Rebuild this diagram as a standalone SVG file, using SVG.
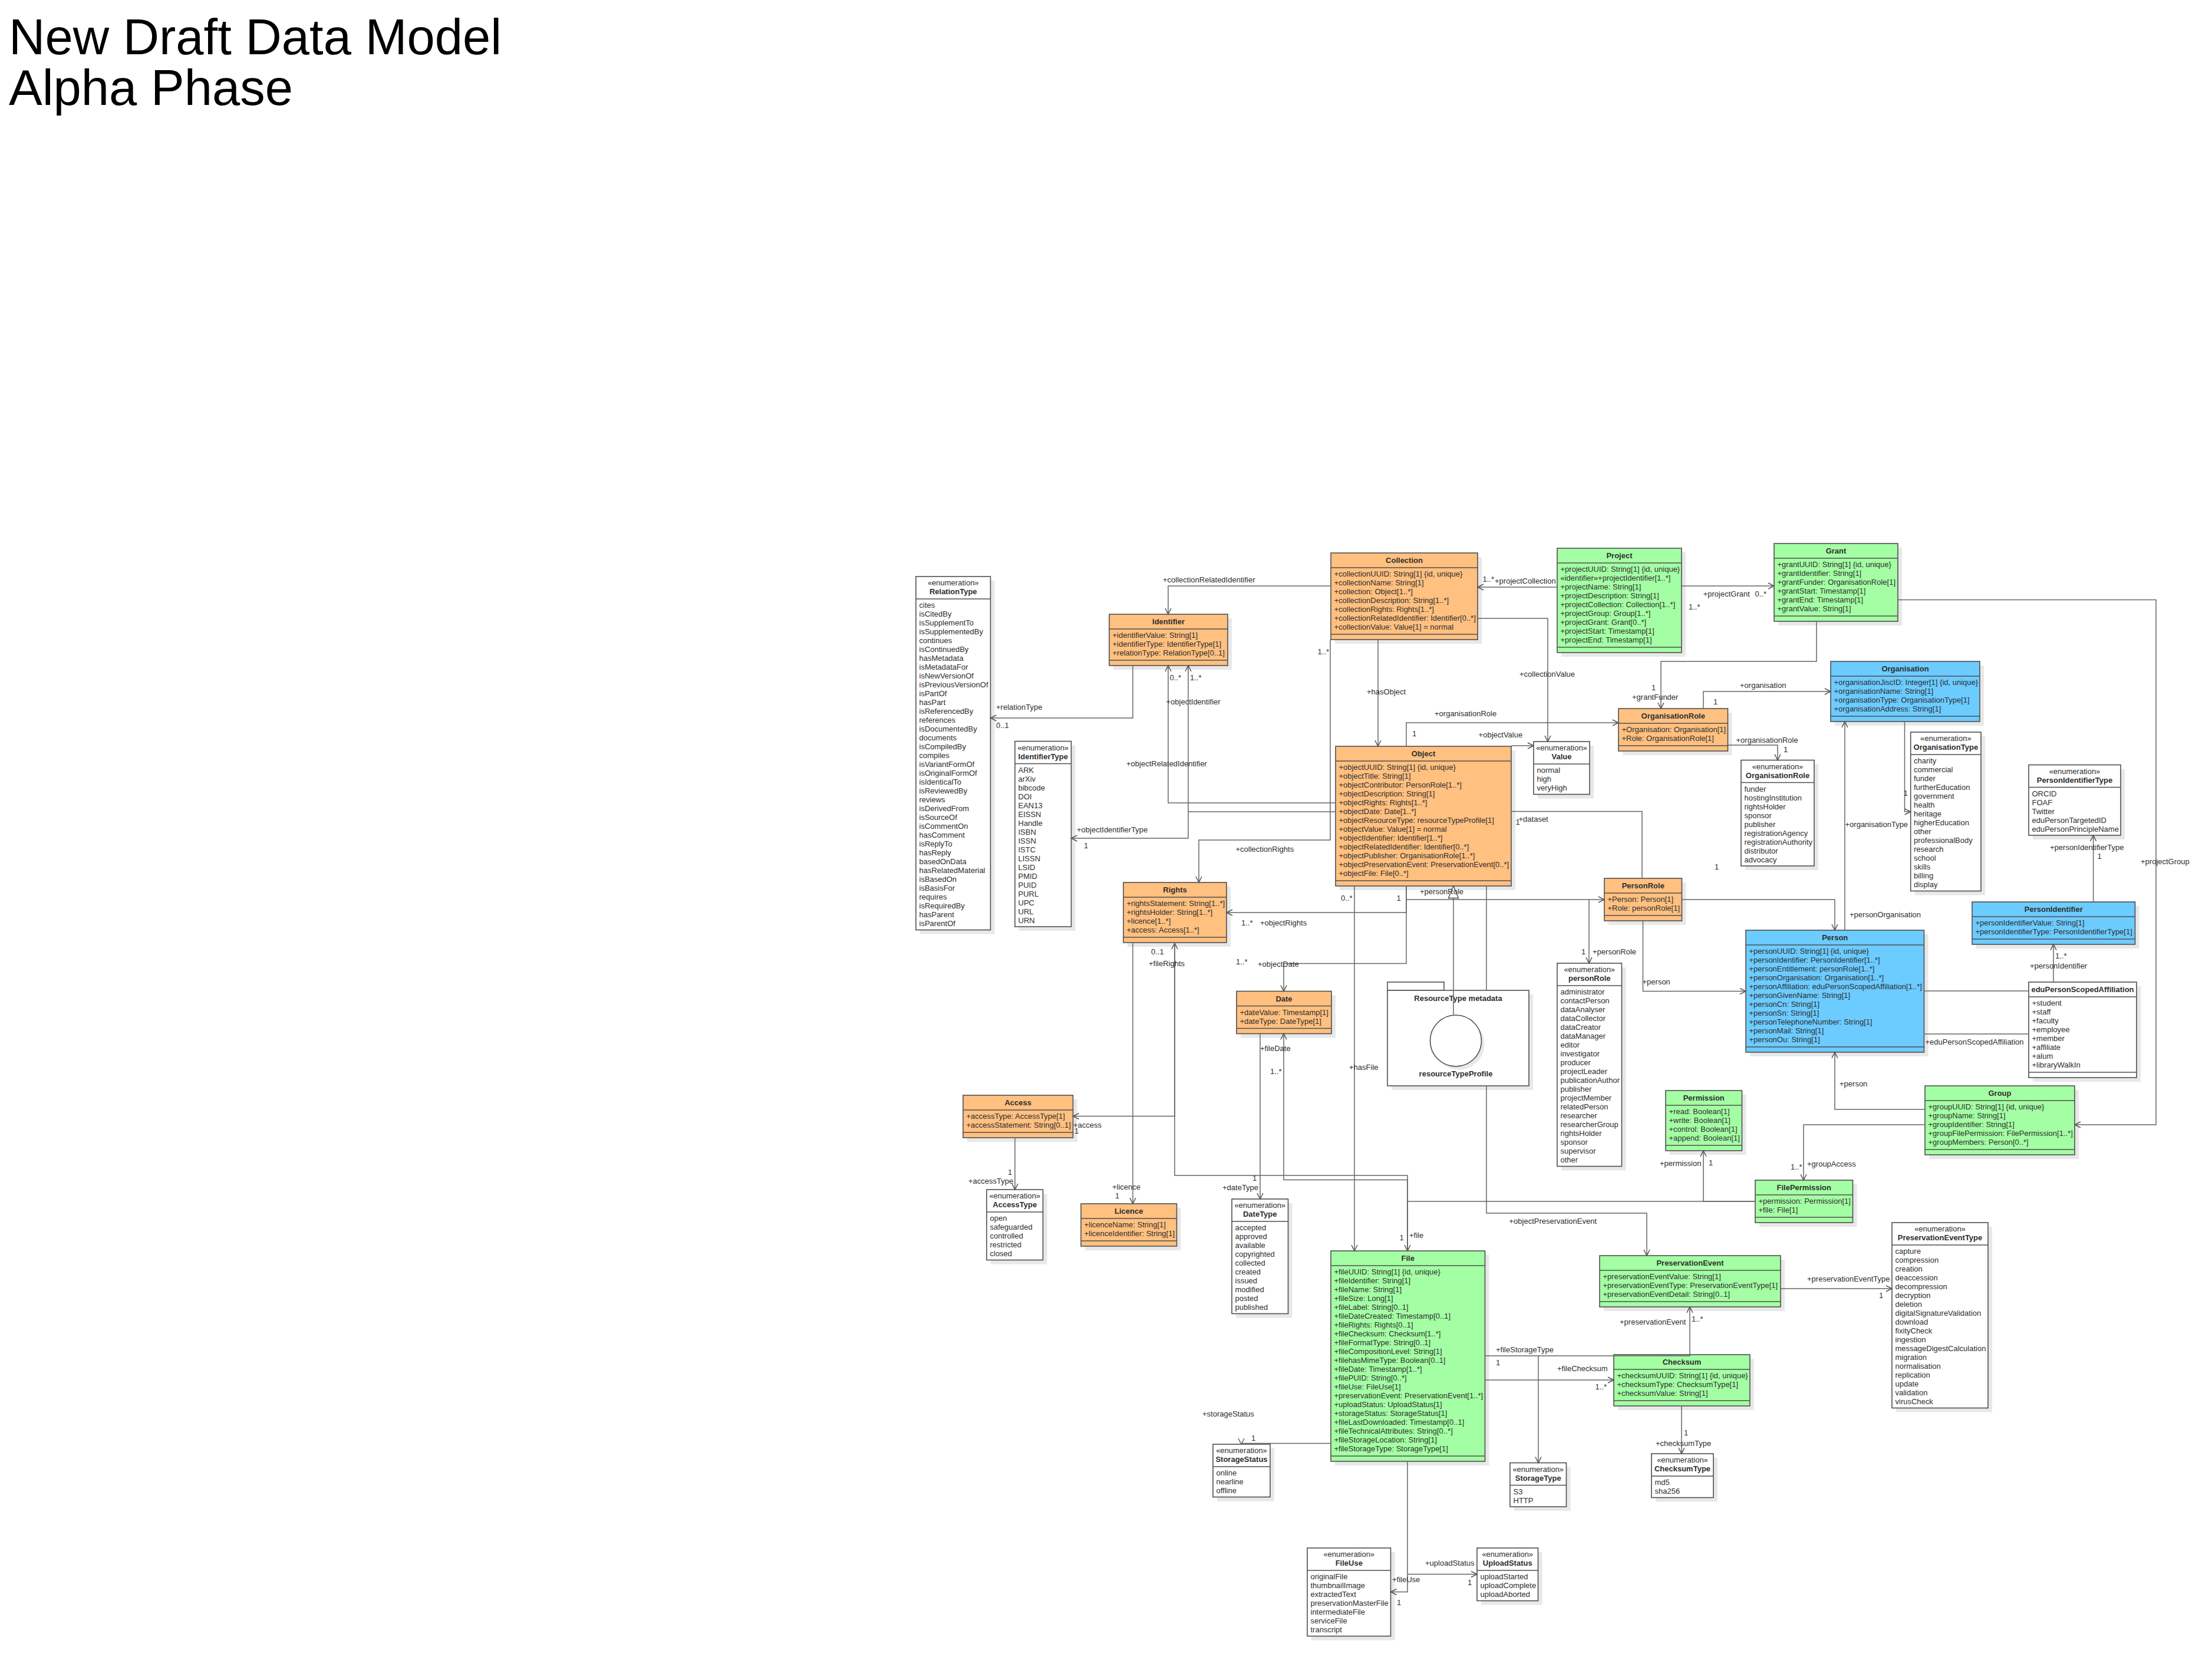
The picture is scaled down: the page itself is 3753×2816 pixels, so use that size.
<svg xmlns="http://www.w3.org/2000/svg" width="3753" height="2816" viewBox="0 0 3753 2816">
<defs>
<style>
.t{font-family:"Liberation Sans",Arial,sans-serif;font-size:13px;fill:#2e2e2e}
.b{font-weight:bold}
.m{text-anchor:middle}
.sh{fill:#e8e8e8}
.bx{stroke:#4f4f4f;stroke-width:1.6}
.or{fill:#ffc080}
.gr{fill:#a4ffa4}
.bl{fill:#6ccbff}
.wh{fill:#ffffff}
.dv{stroke:#4f4f4f;stroke-width:1.6}
.c{fill:none;stroke:#666666;stroke-width:1.5}
.ca{marker-end:url(#a)}
.ttl{font-family:"Liberation Sans",Arial,sans-serif;font-size:85px;fill:#000000}
</style>
<marker id="a" markerUnits="userSpaceOnUse" markerWidth="14" markerHeight="14" refX="11" refY="6" orient="auto"><path d="M1,1 L11,6 L1,11" fill="none" stroke="#555555" stroke-width="1.5"/></marker>
</defs>
<rect x="0" y="0" width="3753" height="2816" fill="#ffffff"/>
<g id="title">
<text class="ttl" x="15" y="92">New Draft Data Model</text>
<text class="ttl" x="15" y="178">Alpha Phase</text>
</g>

<g id="RelationType">
<rect class="sh" x="1561" y="985" width="126.5" height="599.5"/>
<rect class="wh bx" x="1554" y="978" width="126.5" height="599.5"/>
<line class="dv" x1="1554" y1="1016" x2="1680.5" y2="1016"/>
<text class="t m" x="1617.25" y="993">«enumeration»</text>
<text class="t b m" x="1617.25" y="1008">RelationType</text>
<text class="t" x="1559.5" y="1031"><tspan x="1559.5">cites</tspan><tspan x="1559.5" dy="15">isCitedBy</tspan><tspan x="1559.5" dy="15">isSupplementTo</tspan><tspan x="1559.5" dy="15">isSupplementedBy</tspan><tspan x="1559.5" dy="15">continues</tspan><tspan x="1559.5" dy="15">isContinuedBy</tspan><tspan x="1559.5" dy="15">hasMetadata</tspan><tspan x="1559.5" dy="15">isMetadataFor</tspan><tspan x="1559.5" dy="15">isNewVersionOf</tspan><tspan x="1559.5" dy="15">isPreviousVersionOf</tspan><tspan x="1559.5" dy="15">isPartOf</tspan><tspan x="1559.5" dy="15">hasPart</tspan><tspan x="1559.5" dy="15">isReferencedBy</tspan><tspan x="1559.5" dy="15">references</tspan><tspan x="1559.5" dy="15">isDocumentedBy</tspan><tspan x="1559.5" dy="15">documents</tspan><tspan x="1559.5" dy="15">isCompiledBy</tspan><tspan x="1559.5" dy="15">compiles</tspan><tspan x="1559.5" dy="15">isVariantFormOf</tspan><tspan x="1559.5" dy="15">isOriginalFormOf</tspan><tspan x="1559.5" dy="15">isIdenticalTo</tspan><tspan x="1559.5" dy="15">isReviewedBy</tspan><tspan x="1559.5" dy="15">reviews</tspan><tspan x="1559.5" dy="15">isDerivedFrom</tspan><tspan x="1559.5" dy="15">isSourceOf</tspan><tspan x="1559.5" dy="15">isCommentOn</tspan><tspan x="1559.5" dy="15">hasComment</tspan><tspan x="1559.5" dy="15">isReplyTo</tspan><tspan x="1559.5" dy="15">hasReply</tspan><tspan x="1559.5" dy="15">basedOnData</tspan><tspan x="1559.5" dy="15">hasRelatedMaterial</tspan><tspan x="1559.5" dy="15">isBasedOn</tspan><tspan x="1559.5" dy="15">isBasisFor</tspan><tspan x="1559.5" dy="15">requires</tspan><tspan x="1559.5" dy="15">isRequiredBy</tspan><tspan x="1559.5" dy="15">hasParent</tspan><tspan x="1559.5" dy="15">isParentOf</tspan></text>
</g>

<g id="IdentifierType">
<rect class="sh" x="1729" y="1264.5" width="95.5" height="314.5"/>
<rect class="wh bx" x="1722" y="1257.5" width="95.5" height="314.5"/>
<line class="dv" x1="1722" y1="1295.5" x2="1817.5" y2="1295.5"/>
<text class="t m" x="1769.75" y="1272.5">«enumeration»</text>
<text class="t b m" x="1769.75" y="1287.5">IdentifierType</text>
<text class="t" x="1727.5" y="1310.5"><tspan x="1727.5">ARK</tspan><tspan x="1727.5" dy="15">arXiv</tspan><tspan x="1727.5" dy="15">bibcode</tspan><tspan x="1727.5" dy="15">DOI</tspan><tspan x="1727.5" dy="15">EAN13</tspan><tspan x="1727.5" dy="15">EISSN</tspan><tspan x="1727.5" dy="15">Handle</tspan><tspan x="1727.5" dy="15">ISBN</tspan><tspan x="1727.5" dy="15">ISSN</tspan><tspan x="1727.5" dy="15">ISTC</tspan><tspan x="1727.5" dy="15">LISSN</tspan><tspan x="1727.5" dy="15">LSID</tspan><tspan x="1727.5" dy="15">PMID</tspan><tspan x="1727.5" dy="15">PUID</tspan><tspan x="1727.5" dy="15">PURL</tspan><tspan x="1727.5" dy="15">UPC</tspan><tspan x="1727.5" dy="15">URL</tspan><tspan x="1727.5" dy="15">URN</tspan></text>
</g>

<g id="Identifier">
<rect class="sh" x="1889" y="1049" width="201" height="87"/>
<rect class="or bx" x="1882" y="1042" width="201" height="87"/>
<line class="dv" x1="1882" y1="1067" x2="2083" y2="1067"/>
<line class="dv" x1="1882" y1="1120" x2="2083" y2="1120"/>
<text class="t b m" x="1982.5" y="1059">Identifier</text>
<text class="t" x="1887.5" y="1082"><tspan x="1887.5">+identifierValue: String[1]</tspan><tspan x="1887.5" dy="15">+identifierType: IdentifierType[1]</tspan><tspan x="1887.5" dy="15">+relationType: RelationType[0..1]</tspan></text>
</g>

<g id="Collection">
<rect class="sh" x="2265" y="945" width="249" height="147"/>
<rect class="or bx" x="2258" y="938" width="249" height="147"/>
<line class="dv" x1="2258" y1="963" x2="2507" y2="963"/>
<line class="dv" x1="2258" y1="1076" x2="2507" y2="1076"/>
<text class="t b m" x="2382.5" y="955">Collection</text>
<text class="t" x="2263.5" y="978"><tspan x="2263.5">+collectionUUID: String[1] {id, unique}</tspan><tspan x="2263.5" dy="15">+collectionName: String[1]</tspan><tspan x="2263.5" dy="15">+collection: Object[1..*]</tspan><tspan x="2263.5" dy="15">+collectionDescription: String[1..*]</tspan><tspan x="2263.5" dy="15">+collectionRights: Rights[1..*]</tspan><tspan x="2263.5" dy="15">+collectionRelatedIdentifier: Identifier[0..*]</tspan><tspan x="2263.5" dy="15">+collectionValue: Value[1] = normal</tspan></text>
</g>

<g id="Project">
<rect class="sh" x="2649" y="937" width="211" height="177"/>
<rect class="gr bx" x="2642" y="930" width="211" height="177"/>
<line class="dv" x1="2642" y1="955" x2="2853" y2="955"/>
<line class="dv" x1="2642" y1="1098" x2="2853" y2="1098"/>
<text class="t b m" x="2747.5" y="947">Project</text>
<text class="t" x="2647.5" y="970"><tspan x="2647.5">+projectUUID: String[1] {id, unique}</tspan><tspan x="2647.5" dy="15">«identifier»+projectIdentifier[1..*]</tspan><tspan x="2647.5" dy="15">+projectName: String[1]</tspan><tspan x="2647.5" dy="15">+projectDescription: String[1]</tspan><tspan x="2647.5" dy="15">+projectCollection: Collection[1..*]</tspan><tspan x="2647.5" dy="15">+projectGroup: Group[1..*]</tspan><tspan x="2647.5" dy="15">+projectGrant: Grant[0..*]</tspan><tspan x="2647.5" dy="15">+projectStart: Timestamp[1]</tspan><tspan x="2647.5" dy="15">+projectEnd: Timestamp[1]</tspan></text>
</g>

<g id="Grant">
<rect class="sh" x="3017" y="929" width="210" height="132"/>
<rect class="gr bx" x="3010" y="922" width="210" height="132"/>
<line class="dv" x1="3010" y1="947" x2="3220" y2="947"/>
<line class="dv" x1="3010" y1="1045" x2="3220" y2="1045"/>
<text class="t b m" x="3115" y="939">Grant</text>
<text class="t" x="3015.5" y="962"><tspan x="3015.5">+grantUUID: String[1] {id, unique}</tspan><tspan x="3015.5" dy="15">+grantIdentifier: String[1]</tspan><tspan x="3015.5" dy="15">+grantFunder: OrganisationRole[1]</tspan><tspan x="3015.5" dy="15">+grantStart: Timestamp[1]</tspan><tspan x="3015.5" dy="15">+grantEnd: Timestamp[1]</tspan><tspan x="3015.5" dy="15">+grantValue: String[1]</tspan></text>
</g>

<g id="Value">
<rect class="sh" x="2609" y="1265" width="95" height="89.5"/>
<rect class="wh bx" x="2602" y="1258" width="95" height="89.5"/>
<line class="dv" x1="2602" y1="1296" x2="2697" y2="1296"/>
<text class="t m" x="2649.5" y="1273">«enumeration»</text>
<text class="t b m" x="2649.5" y="1288">Value</text>
<text class="t" x="2607.5" y="1311"><tspan x="2607.5">normal</tspan><tspan x="2607.5" dy="15">high</tspan><tspan x="2607.5" dy="15">veryHigh</tspan></text>
</g>

<g id="OrganisationRoleClass">
<rect class="sh" x="2753" y="1209" width="185.5" height="72"/>
<rect class="or bx" x="2746" y="1202" width="185.5" height="72"/>
<line class="dv" x1="2746" y1="1227" x2="2931.5" y2="1227"/>
<line class="dv" x1="2746" y1="1265" x2="2931.5" y2="1265"/>
<text class="t b m" x="2838.75" y="1219">OrganisationRole</text>
<text class="t" x="2751.5" y="1242"><tspan x="2751.5">+Organisation: Organisation[1]</tspan><tspan x="2751.5" dy="15">+Role: OrganisationRole[1]</tspan></text>
</g>

<g id="Organisation">
<rect class="sh" x="3113" y="1129" width="253" height="102"/>
<rect class="bl bx" x="3106" y="1122" width="253" height="102"/>
<line class="dv" x1="3106" y1="1147" x2="3359" y2="1147"/>
<line class="dv" x1="3106" y1="1215" x2="3359" y2="1215"/>
<text class="t b m" x="3232.5" y="1139">Organisation</text>
<text class="t" x="3111.5" y="1162"><tspan x="3111.5">+organisationJiscID: Integer[1] {id, unique}</tspan><tspan x="3111.5" dy="15">+organisationName: String[1]</tspan><tspan x="3111.5" dy="15">+organisationType: OrganisationType[1]</tspan><tspan x="3111.5" dy="15">+organisationAddress: String[1]</tspan></text>
</g>

<g id="OrganisationRoleEnum">
<rect class="sh" x="2961" y="1296.5" width="124" height="179.5"/>
<rect class="wh bx" x="2954" y="1289.5" width="124" height="179.5"/>
<line class="dv" x1="2954" y1="1327.5" x2="3078" y2="1327.5"/>
<text class="t m" x="3016" y="1304.5">«enumeration»</text>
<text class="t b m" x="3016" y="1319.5">OrganisationRole</text>
<text class="t" x="2959.5" y="1342.5"><tspan x="2959.5">funder</tspan><tspan x="2959.5" dy="15">hostingInstitution</tspan><tspan x="2959.5" dy="15">rightsHolder</tspan><tspan x="2959.5" dy="15">sponsor</tspan><tspan x="2959.5" dy="15">publisher</tspan><tspan x="2959.5" dy="15">registrationAgency</tspan><tspan x="2959.5" dy="15">registrationAuthority</tspan><tspan x="2959.5" dy="15">distributor</tspan><tspan x="2959.5" dy="15">advocacy</tspan></text>
</g>

<g id="OrganisationType">
<rect class="sh" x="3248.7" y="1249" width="119.3" height="269.5"/>
<rect class="wh bx" x="3241.7" y="1242" width="119.3" height="269.5"/>
<line class="dv" x1="3241.7" y1="1280" x2="3361" y2="1280"/>
<text class="t m" x="3301.35" y="1257">«enumeration»</text>
<text class="t b m" x="3301.35" y="1272">OrganisationType</text>
<text class="t" x="3247" y="1295"><tspan x="3247">charity</tspan><tspan x="3247" dy="15">commercial</tspan><tspan x="3247" dy="15">funder</tspan><tspan x="3247" dy="15">furtherEducation</tspan><tspan x="3247" dy="15">government</tspan><tspan x="3247" dy="15">health</tspan><tspan x="3247" dy="15">heritage</tspan><tspan x="3247" dy="15">higherEducation</tspan><tspan x="3247" dy="15">other</tspan><tspan x="3247" dy="15">professionalBody</tspan><tspan x="3247" dy="15">research</tspan><tspan x="3247" dy="15">school</tspan><tspan x="3247" dy="15">skills</tspan><tspan x="3247" dy="15">billing</tspan><tspan x="3247" dy="15">display</tspan></text>
</g>

<g id="PersonIdentifierType">
<rect class="sh" x="3449" y="1304.5" width="156" height="119.5"/>
<rect class="wh bx" x="3442" y="1297.5" width="156" height="119.5"/>
<line class="dv" x1="3442" y1="1335.5" x2="3598" y2="1335.5"/>
<text class="t m" x="3520" y="1312.5">«enumeration»</text>
<text class="t b m" x="3520" y="1327.5">PersonIdentifierType</text>
<text class="t" x="3447.5" y="1350.5"><tspan x="3447.5">ORCID</tspan><tspan x="3447.5" dy="15">FOAF</tspan><tspan x="3447.5" dy="15">Twitter</tspan><tspan x="3447.5" dy="15">eduPersonTargetedID</tspan><tspan x="3447.5" dy="15">eduPersonPrincipleName</tspan></text>
</g>

<g id="PersonIdentifier">
<rect class="sh" x="3353" y="1537" width="276.5" height="72"/>
<rect class="bl bx" x="3346" y="1530" width="276.5" height="72"/>
<line class="dv" x1="3346" y1="1555" x2="3622.5" y2="1555"/>
<line class="dv" x1="3346" y1="1593" x2="3622.5" y2="1593"/>
<text class="t b m" x="3484.25" y="1547">PersonIdentifier</text>
<text class="t" x="3351.5" y="1570"><tspan x="3351.5">+personIdentifierValue: String[1]</tspan><tspan x="3351.5" dy="15">+personIdentifierType: PersonIdentifierType[1]</tspan></text>
</g>

<g id="Object">
<rect class="sh" x="2273" y="1273" width="298" height="237"/>
<rect class="or bx" x="2266" y="1266" width="298" height="237"/>
<line class="dv" x1="2266" y1="1291" x2="2564" y2="1291"/>
<line class="dv" x1="2266" y1="1494" x2="2564" y2="1494"/>
<text class="t b m" x="2415" y="1283">Object</text>
<text class="t" x="2271.5" y="1306"><tspan x="2271.5">+objectUUID: String[1] {id, unique}</tspan><tspan x="2271.5" dy="15">+objectTitle: String[1]</tspan><tspan x="2271.5" dy="15">+objectContributor: PersonRole[1..*]</tspan><tspan x="2271.5" dy="15">+objectDescription: String[1]</tspan><tspan x="2271.5" dy="15">+objectRights: Rights[1..*]</tspan><tspan x="2271.5" dy="15">+objectDate: Date[1..*]</tspan><tspan x="2271.5" dy="15">+objectResourceType: resourceTypeProfile[1]</tspan><tspan x="2271.5" dy="15">+objectValue: Value[1] = normal</tspan><tspan x="2271.5" dy="15">+objectIdentifier: Identifier[1..*]</tspan><tspan x="2271.5" dy="15">+objectRelatedIdentifier: Identifier[0..*]</tspan><tspan x="2271.5" dy="15">+objectPublisher: OrganisationRole[1..*]</tspan><tspan x="2271.5" dy="15">+objectPreservationEvent: PreservationEvent[0..*]</tspan><tspan x="2271.5" dy="15">+objectFile: File[0..*]</tspan></text>
</g>

<g id="Rights">
<rect class="sh" x="1913" y="1504" width="175" height="102"/>
<rect class="or bx" x="1906" y="1497" width="175" height="102"/>
<line class="dv" x1="1906" y1="1522" x2="2081" y2="1522"/>
<line class="dv" x1="1906" y1="1590" x2="2081" y2="1590"/>
<text class="t b m" x="1993.5" y="1514">Rights</text>
<text class="t" x="1911.5" y="1537"><tspan x="1911.5">+rightsStatement: String[1..*]</tspan><tspan x="1911.5" dy="15">+rightsHolder: String[1..*]</tspan><tspan x="1911.5" dy="15">+licence[1..*]</tspan><tspan x="1911.5" dy="15">+access: Access[1..*]</tspan></text>
</g>

<g id="PersonRole">
<rect class="sh" x="2729" y="1497" width="131.5" height="72"/>
<rect class="or bx" x="2722" y="1490" width="131.5" height="72"/>
<line class="dv" x1="2722" y1="1515" x2="2853.5" y2="1515"/>
<line class="dv" x1="2722" y1="1553" x2="2853.5" y2="1553"/>
<text class="t b m" x="2787.75" y="1507">PersonRole</text>
<text class="t" x="2727.5" y="1530"><tspan x="2727.5">+Person: Person[1]</tspan><tspan x="2727.5" dy="15">+Role: personRole[1]</tspan></text>
</g>

<g id="personRoleEnum">
<rect class="sh" x="2649" y="1641" width="109.5" height="344.5"/>
<rect class="wh bx" x="2642" y="1634" width="109.5" height="344.5"/>
<line class="dv" x1="2642" y1="1672" x2="2751.5" y2="1672"/>
<text class="t m" x="2696.75" y="1649">«enumeration»</text>
<text class="t b m" x="2696.75" y="1664">personRole</text>
<text class="t" x="2647.5" y="1687"><tspan x="2647.5">administrator</tspan><tspan x="2647.5" dy="15">contactPerson</tspan><tspan x="2647.5" dy="15">dataAnalyser</tspan><tspan x="2647.5" dy="15">dataCollector</tspan><tspan x="2647.5" dy="15">dataCreator</tspan><tspan x="2647.5" dy="15">dataManager</tspan><tspan x="2647.5" dy="15">editor</tspan><tspan x="2647.5" dy="15">investigator</tspan><tspan x="2647.5" dy="15">producer</tspan><tspan x="2647.5" dy="15">projectLeader</tspan><tspan x="2647.5" dy="15">publicationAuthor</tspan><tspan x="2647.5" dy="15">publisher</tspan><tspan x="2647.5" dy="15">projectMember</tspan><tspan x="2647.5" dy="15">relatedPerson</tspan><tspan x="2647.5" dy="15">researcher</tspan><tspan x="2647.5" dy="15">researcherGroup</tspan><tspan x="2647.5" dy="15">rightsHolder</tspan><tspan x="2647.5" dy="15">sponsor</tspan><tspan x="2647.5" dy="15">supervisor</tspan><tspan x="2647.5" dy="15">other</tspan></text>
</g>

<g id="Person">
<rect class="sh" x="2969" y="1585" width="302.5" height="207"/>
<rect class="bl bx" x="2962" y="1578" width="302.5" height="207"/>
<line class="dv" x1="2962" y1="1603" x2="3264.5" y2="1603"/>
<line class="dv" x1="2962" y1="1776" x2="3264.5" y2="1776"/>
<text class="t b m" x="3113.25" y="1595">Person</text>
<text class="t" x="2967.5" y="1618"><tspan x="2967.5">+personUUID: String[1] {id, unique}</tspan><tspan x="2967.5" dy="15">+personIdentifier: PersonIdentifier[1..*]</tspan><tspan x="2967.5" dy="15">+personEntitlement: personRole[1..*]</tspan><tspan x="2967.5" dy="15">+personOrganisation: Organisation[1..*]</tspan><tspan x="2967.5" dy="15">+personAffiliation: eduPersonScopedAffiliation[1..*]</tspan><tspan x="2967.5" dy="15">+personGivenName: String[1]</tspan><tspan x="2967.5" dy="15">+personCn: String[1]</tspan><tspan x="2967.5" dy="15">+personSn: String[1]</tspan><tspan x="2967.5" dy="15">+personTelephoneNumber: String[1]</tspan><tspan x="2967.5" dy="15">+personMail: String[1]</tspan><tspan x="2967.5" dy="15">+personOu: String[1]</tspan></text>
</g>

<g id="eduPersonScopedAffiliation">
<rect class="sh" x="3449" y="1673" width="183" height="162"/>
<rect class="wh bx" x="3442" y="1666" width="183" height="162"/>
<line class="dv" x1="3442" y1="1691" x2="3625" y2="1691"/>
<line class="dv" x1="3442" y1="1819" x2="3625" y2="1819"/>
<text class="t b m" x="3533.5" y="1683">eduPersonScopedAffiliation</text>
<text class="t" x="3447.5" y="1706"><tspan x="3447.5">+student</tspan><tspan x="3447.5" dy="15">+staff</tspan><tspan x="3447.5" dy="15">+faculty</tspan><tspan x="3447.5" dy="15">+employee</tspan><tspan x="3447.5" dy="15">+member</tspan><tspan x="3447.5" dy="15">+affiliate</tspan><tspan x="3447.5" dy="15">+alum</tspan><tspan x="3447.5" dy="15">+libraryWalkIn</tspan></text>
</g>

<g id="Date">
<rect class="sh" x="2105" y="1688.5" width="161" height="72"/>
<rect class="or bx" x="2098" y="1681.5" width="161" height="72"/>
<line class="dv" x1="2098" y1="1706.5" x2="2259" y2="1706.5"/>
<line class="dv" x1="2098" y1="1744.5" x2="2259" y2="1744.5"/>
<text class="t b m" x="2178.5" y="1698.5">Date</text>
<text class="t" x="2103.5" y="1721.5"><tspan x="2103.5">+dateValue: Timestamp[1]</tspan><tspan x="2103.5" dy="15">+dateType: DateType[1]</tspan></text>
</g>

<g id="ResourceTypeMetadata">
<rect class="sh" x="2361" y="1687" width="240" height="162"/>
<rect class="wh bx" x="2354" y="1666" width="96" height="14"/>
<rect class="wh bx" x="2354" y="1680" width="240" height="162"/>
<text class="t b m" x="2474" y="1698">ResourceType metadata</text>
<circle cx="2475" cy="1771" r="43.5" fill="#e8e8e8"/>
<circle cx="2470" cy="1765.5" r="43.5" fill="#ffffff" stroke="#4f4f4f" stroke-width="1.6"/>
<text class="t b m" x="2470" y="1826">resourceTypeProfile</text>
</g>

<g id="Access">
<rect class="sh" x="1641" y="1865" width="186.5" height="72"/>
<rect class="or bx" x="1634" y="1858" width="186.5" height="72"/>
<line class="dv" x1="1634" y1="1883" x2="1820.5" y2="1883"/>
<line class="dv" x1="1634" y1="1921" x2="1820.5" y2="1921"/>
<text class="t b m" x="1727.25" y="1875">Access</text>
<text class="t" x="1639.5" y="1898"><tspan x="1639.5">+accessType: AccessType[1]</tspan><tspan x="1639.5" dy="15">+accessStatement: String[0..1]</tspan></text>
</g>

<g id="AccessType">
<rect class="sh" x="1681" y="2025" width="95.5" height="119.5"/>
<rect class="wh bx" x="1674" y="2018" width="95.5" height="119.5"/>
<line class="dv" x1="1674" y1="2056" x2="1769.5" y2="2056"/>
<text class="t m" x="1721.75" y="2033">«enumeration»</text>
<text class="t b m" x="1721.75" y="2048">AccessType</text>
<text class="t" x="1679.5" y="2071"><tspan x="1679.5">open</tspan><tspan x="1679.5" dy="15">safeguarded</tspan><tspan x="1679.5" dy="15">controlled</tspan><tspan x="1679.5" dy="15">restricted</tspan><tspan x="1679.5" dy="15">closed</tspan></text>
</g>

<g id="Licence">
<rect class="sh" x="1841" y="2049" width="162.5" height="72"/>
<rect class="or bx" x="1834" y="2042" width="162.5" height="72"/>
<line class="dv" x1="1834" y1="2067" x2="1996.5" y2="2067"/>
<line class="dv" x1="1834" y1="2105" x2="1996.5" y2="2105"/>
<text class="t b m" x="1915.25" y="2059">Licence</text>
<text class="t" x="1839.5" y="2082"><tspan x="1839.5">+licenceName: String[1]</tspan><tspan x="1839.5" dy="15">+licenceIdentifier: String[1]</tspan></text>
</g>

<g id="DateType">
<rect class="sh" x="2097" y="2041" width="95.5" height="194.5"/>
<rect class="wh bx" x="2090" y="2034" width="95.5" height="194.5"/>
<line class="dv" x1="2090" y1="2072" x2="2185.5" y2="2072"/>
<text class="t m" x="2137.75" y="2049">«enumeration»</text>
<text class="t b m" x="2137.75" y="2064">DateType</text>
<text class="t" x="2095.5" y="2087"><tspan x="2095.5">accepted</tspan><tspan x="2095.5" dy="15">approved</tspan><tspan x="2095.5" dy="15">available</tspan><tspan x="2095.5" dy="15">copyrighted</tspan><tspan x="2095.5" dy="15">collected</tspan><tspan x="2095.5" dy="15">created</tspan><tspan x="2095.5" dy="15">issued</tspan><tspan x="2095.5" dy="15">modified</tspan><tspan x="2095.5" dy="15">posted</tspan><tspan x="2095.5" dy="15">published</tspan></text>
</g>

<g id="Permission">
<rect class="sh" x="2833" y="1857" width="129.5" height="102"/>
<rect class="gr bx" x="2826" y="1850" width="129.5" height="102"/>
<line class="dv" x1="2826" y1="1875" x2="2955.5" y2="1875"/>
<line class="dv" x1="2826" y1="1943" x2="2955.5" y2="1943"/>
<text class="t b m" x="2890.75" y="1867">Permission</text>
<text class="t" x="2831.5" y="1890"><tspan x="2831.5">+read: Boolean[1]</tspan><tspan x="2831.5" dy="15">+write: Boolean[1]</tspan><tspan x="2831.5" dy="15">+control: Boolean[1]</tspan><tspan x="2831.5" dy="15">+append: Boolean[1]</tspan></text>
</g>

<g id="Group">
<rect class="sh" x="3273" y="1849" width="254" height="117"/>
<rect class="gr bx" x="3266" y="1842" width="254" height="117"/>
<line class="dv" x1="3266" y1="1867" x2="3520" y2="1867"/>
<line class="dv" x1="3266" y1="1950" x2="3520" y2="1950"/>
<text class="t b m" x="3393" y="1859">Group</text>
<text class="t" x="3271.5" y="1882"><tspan x="3271.5">+groupUUID: String[1] {id, unique}</tspan><tspan x="3271.5" dy="15">+groupName: String[1]</tspan><tspan x="3271.5" dy="15">+groupIdentifier: String[1]</tspan><tspan x="3271.5" dy="15">+groupFilePermission: FilePermission[1..*]</tspan><tspan x="3271.5" dy="15">+groupMembers: Person[0..*]</tspan></text>
</g>

<g id="FilePermission">
<rect class="sh" x="2985" y="2009" width="165.5" height="72"/>
<rect class="gr bx" x="2978" y="2002" width="165.5" height="72"/>
<line class="dv" x1="2978" y1="2027" x2="3143.5" y2="2027"/>
<line class="dv" x1="2978" y1="2065" x2="3143.5" y2="2065"/>
<text class="t b m" x="3060.75" y="2019">FilePermission</text>
<text class="t" x="2983.5" y="2042"><tspan x="2983.5">+permission: Permission[1]</tspan><tspan x="2983.5" dy="15">+file: File[1]</tspan></text>
</g>

<g id="File">
<rect class="sh" x="2265" y="2129" width="261.5" height="357"/>
<rect class="gr bx" x="2258" y="2122" width="261.5" height="357"/>
<line class="dv" x1="2258" y1="2147" x2="2519.5" y2="2147"/>
<line class="dv" x1="2258" y1="2470" x2="2519.5" y2="2470"/>
<text class="t b m" x="2388.75" y="2139">File</text>
<text class="t" x="2263.5" y="2162"><tspan x="2263.5">+fileUUID: String[1] {id, unique}</tspan><tspan x="2263.5" dy="15">+fileIdentifier: String[1]</tspan><tspan x="2263.5" dy="15">+fileName: String[1]</tspan><tspan x="2263.5" dy="15">+fileSize: Long[1]</tspan><tspan x="2263.5" dy="15">+fileLabel: String[0..1]</tspan><tspan x="2263.5" dy="15">+fileDateCreated: Timestamp[0..1]</tspan><tspan x="2263.5" dy="15">+fileRights: Rights[0..1]</tspan><tspan x="2263.5" dy="15">+fileChecksum: Checksum[1..*]</tspan><tspan x="2263.5" dy="15">+fileFormatType: String[0..1]</tspan><tspan x="2263.5" dy="15">+fileCompositionLevel: String[1]</tspan><tspan x="2263.5" dy="15">+filehasMimeType: Boolean[0..1]</tspan><tspan x="2263.5" dy="15">+fileDate: Timestamp[1..*]</tspan><tspan x="2263.5" dy="15">+filePUID: String[0..*]</tspan><tspan x="2263.5" dy="15">+fileUse: FileUse[1]</tspan><tspan x="2263.5" dy="15">+preservationEvent: PreservationEvent[1..*]</tspan><tspan x="2263.5" dy="15">+uploadStatus: UploadStatus[1]</tspan><tspan x="2263.5" dy="15">+storageStatus: StorageStatus[1]</tspan><tspan x="2263.5" dy="15">+fileLastDownloaded: Timestamp[0..1]</tspan><tspan x="2263.5" dy="15">+fileTechnicalAttributes: String[0..*]</tspan><tspan x="2263.5" dy="15">+fileStorageLocation: String[1]</tspan><tspan x="2263.5" dy="15">+fileStorageType: StorageType[1]</tspan></text>
</g>

<g id="PreservationEvent">
<rect class="sh" x="2721" y="2137" width="307" height="87"/>
<rect class="gr bx" x="2714" y="2130" width="307" height="87"/>
<line class="dv" x1="2714" y1="2155" x2="3021" y2="2155"/>
<line class="dv" x1="2714" y1="2208" x2="3021" y2="2208"/>
<text class="t b m" x="2867.5" y="2147">PreservationEvent</text>
<text class="t" x="2719.5" y="2170"><tspan x="2719.5">+preservationEventValue: String[1]</tspan><tspan x="2719.5" dy="15">+preservationEventType: PreservationEventType[1]</tspan><tspan x="2719.5" dy="15">+preservationEventDetail: String[0..1]</tspan></text>
</g>

<g id="PreservationEventType">
<rect class="sh" x="3217" y="2081" width="163" height="314.5"/>
<rect class="wh bx" x="3210" y="2074" width="163" height="314.5"/>
<line class="dv" x1="3210" y1="2112" x2="3373" y2="2112"/>
<text class="t m" x="3291.5" y="2089">«enumeration»</text>
<text class="t b m" x="3291.5" y="2104">PreservationEventType</text>
<text class="t" x="3215.5" y="2127"><tspan x="3215.5">capture</tspan><tspan x="3215.5" dy="15">compression</tspan><tspan x="3215.5" dy="15">creation</tspan><tspan x="3215.5" dy="15">deaccession</tspan><tspan x="3215.5" dy="15">decompression</tspan><tspan x="3215.5" dy="15">decryption</tspan><tspan x="3215.5" dy="15">deletion</tspan><tspan x="3215.5" dy="15">digitalSignatureValidation</tspan><tspan x="3215.5" dy="15">download</tspan><tspan x="3215.5" dy="15">fixityCheck</tspan><tspan x="3215.5" dy="15">ingestion</tspan><tspan x="3215.5" dy="15">messageDigestCalculation</tspan><tspan x="3215.5" dy="15">migration</tspan><tspan x="3215.5" dy="15">normalisation</tspan><tspan x="3215.5" dy="15">replication</tspan><tspan x="3215.5" dy="15">update</tspan><tspan x="3215.5" dy="15">validation</tspan><tspan x="3215.5" dy="15">virusCheck</tspan></text>
</g>

<g id="Checksum">
<rect class="sh" x="2745" y="2305" width="231" height="87"/>
<rect class="gr bx" x="2738" y="2298" width="231" height="87"/>
<line class="dv" x1="2738" y1="2323" x2="2969" y2="2323"/>
<line class="dv" x1="2738" y1="2376" x2="2969" y2="2376"/>
<text class="t b m" x="2853.5" y="2315">Checksum</text>
<text class="t" x="2743.5" y="2338"><tspan x="2743.5">+checksumUUID: String[1] {id, unique}</tspan><tspan x="2743.5" dy="15">+checksumType: ChecksumType[1]</tspan><tspan x="2743.5" dy="15">+checksumValue: String[1]</tspan></text>
</g>

<g id="ChecksumType">
<rect class="sh" x="2809" y="2473" width="105" height="74.5"/>
<rect class="wh bx" x="2802" y="2466" width="105" height="74.5"/>
<line class="dv" x1="2802" y1="2504" x2="2907" y2="2504"/>
<text class="t m" x="2854.5" y="2481">«enumeration»</text>
<text class="t b m" x="2854.5" y="2496">ChecksumType</text>
<text class="t" x="2807.5" y="2519"><tspan x="2807.5">md5</tspan><tspan x="2807.5" dy="15">sha256</tspan></text>
</g>

<g id="StorageType">
<rect class="sh" x="2569" y="2488.5" width="95.5" height="74.5"/>
<rect class="wh bx" x="2562" y="2481.5" width="95.5" height="74.5"/>
<line class="dv" x1="2562" y1="2519.5" x2="2657.5" y2="2519.5"/>
<text class="t m" x="2609.75" y="2496.5">«enumeration»</text>
<text class="t b m" x="2609.75" y="2511.5">StorageType</text>
<text class="t" x="2567.5" y="2534.5"><tspan x="2567.5">S3</tspan><tspan x="2567.5" dy="15">HTTP</tspan></text>
</g>

<g id="StorageStatus">
<rect class="sh" x="2065" y="2457" width="97" height="89.5"/>
<rect class="wh bx" x="2058" y="2450" width="97" height="89.5"/>
<line class="dv" x1="2058" y1="2488" x2="2155" y2="2488"/>
<text class="t m" x="2106.5" y="2465">«enumeration»</text>
<text class="t b m" x="2106.5" y="2480">StorageStatus</text>
<text class="t" x="2063.5" y="2503"><tspan x="2063.5">online</tspan><tspan x="2063.5" dy="15">nearline</tspan><tspan x="2063.5" dy="15">offline</tspan></text>
</g>

<g id="FileUse">
<rect class="sh" x="2225" y="2633" width="141.5" height="149.5"/>
<rect class="wh bx" x="2218" y="2626" width="141.5" height="149.5"/>
<line class="dv" x1="2218" y1="2664" x2="2359.5" y2="2664"/>
<text class="t m" x="2288.75" y="2641">«enumeration»</text>
<text class="t b m" x="2288.75" y="2656">FileUse</text>
<text class="t" x="2223.5" y="2679"><tspan x="2223.5">originalFile</tspan><tspan x="2223.5" dy="15">thumbnailImage</tspan><tspan x="2223.5" dy="15">extractedText</tspan><tspan x="2223.5" dy="15">preservationMasterFile</tspan><tspan x="2223.5" dy="15">intermediateFile</tspan><tspan x="2223.5" dy="15">serviceFile</tspan><tspan x="2223.5" dy="15">transcript</tspan></text>
</g>

<g id="UploadStatus">
<rect class="sh" x="2513" y="2633" width="103.5" height="89.5"/>
<rect class="wh bx" x="2506" y="2626" width="103.5" height="89.5"/>
<line class="dv" x1="2506" y1="2664" x2="2609.5" y2="2664"/>
<text class="t m" x="2557.75" y="2641">«enumeration»</text>
<text class="t b m" x="2557.75" y="2656">UploadStatus</text>
<text class="t" x="2511.5" y="2679"><tspan x="2511.5">uploadStarted</tspan><tspan x="2511.5" dy="15">uploadComplete</tspan><tspan x="2511.5" dy="15">uploadAborted</tspan></text>
</g>

<g id="connectors">
<path class="c ca" d="M2258,994 H1982 V1042"/>
<path class="c ca" d="M1922,1129 V1218 H1680.5"/>
<path class="c ca" d="M2266,1362 H1982 V1129"/>
<path class="c ca" d="M2266,1377 H2016 V1129"/>
<path class="c ca" d="M2016,1377 V1422 H1817.5"/>
<path class="c ca" d="M2257,1085 V1425 H2034 V1497"/>
<path class="c ca" d="M2386,1503 V1548 H2081"/>
<path class="c ca" d="M2386,1503 V1634.5 H2178 V1681.5"/>
<path class="c ca" d="M2386,1526 H2722"/>
<path class="c ca" d="M2696,1526 V1634"/>
<path class="c ca" d="M2338,1085 V1266"/>
<path class="c ca" d="M2507,1049 H2626 V1258"/>
<path class="c ca" d="M2564,1265 H2602"/>
<path class="c ca" d="M2386,1266 V1226 H2746"/>
<path class="c ca" d="M2642,996 H2507"/>
<path class="c ca" d="M2853,994 H3010"/>
<path class="c ca" d="M3082,1054 V1122 H2818 V1202"/>
<path class="c ca" d="M2890,1202 V1173 H3106"/>
<path class="c ca" d="M2931.5,1264 H3016 V1289.5"/>
<path class="c ca" d="M3231.5,1224 V1377 H3241.7"/>
<path class="c ca" d="M3130,1578 V1224"/>
<path class="c" d="M2564,1376.6 H2786 V1490"/>
<path class="c ca" d="M2853.5,1526 H3113 V1578"/>
<path class="c ca" d="M2787.5,1562 V1681.5 H2962"/>
<path class="c" d="M3264.5,1681 H3442"/>
<path class="c" d="M3264.5,1754 H3442"/>
<path class="c ca" d="M3484,1666 V1602"/>
<path class="c ca" d="M3551.6,1530 V1417"/>
<path class="c ca" d="M3220,1017.5 H3658 V1908 H3520"/>
<path class="c ca" d="M3266,1882 H3113 V1785"/>
<path class="c ca" d="M3266,1908 H3060 V2002"/>
<path class="c ca" d="M2978,2038 H2890 V1952"/>
<path class="c ca" d="M2978,2038 H2388 V2122"/>
<path class="c ca" d="M2388,2122 V1994 H1993 V1600"/>
<path class="c ca" d="M1993,1600 V1893.5 H1820.5"/>
<path class="c ca" d="M1922,1600 V2042"/>
<path class="c ca" d="M1722,1930 V2018"/>
<path class="c ca" d="M2388,2122 V2001.5 H2178 V1753.5"/>
<path class="c ca" d="M2138,1753.5 V2034"/>
<path class="c ca" d="M2298,1503 V2122"/>
<path class="c" d="M2466,1721.5 V1523.5"/>
<polygon points="2466,1503 2457.5,1523.5 2474.5,1523.5" fill="#ffffff" stroke="#555555" stroke-width="1.5"/>
<path class="c" d="M2522,1503 V1680"/>
<path class="c ca" d="M2522,1842 V2058 H2794 V2130"/>
<path class="c ca" d="M2519.5,2300 H2867 V2217"/>
<path class="c ca" d="M2610,2300 V2481.5"/>
<path class="c ca" d="M2519.5,2341 H2738"/>
<path class="c ca" d="M2853,2385 V2466"/>
<path class="c ca" d="M3021,2186 H3210"/>
<path class="c" d="M2258,2448.5 H2106"/>
<path class="c" d="M2101,2440 L2106,2450 L2111,2440"/>
<path class="c ca" d="M2388,2479 V2700.5 H2359.5"/>
<path class="c ca" d="M2388,2670.5 H2506"/>

<text class="t" x="1973" y="988">+collectionRelatedIdentifier</text>
<text class="t" x="1690" y="1204">+relationType</text>
<text class="t" x="1690" y="1234.5">0..1</text>
<text class="t" x="1984.5" y="1153.5">0..*</text>
<text class="t" x="1911" y="1299.5">+objectRelatedIdentifier</text>
<text class="t" x="2019" y="1153.5">1..*</text>
<text class="t" x="1978.5" y="1194.5">+objectIdentifier</text>
<text class="t" x="1827" y="1411.5">+objectIdentifierType</text>
<text class="t" x="1839" y="1438.5">1</text>
<text class="t" x="2235.6" y="1109.5">1..*</text>
<text class="t" x="2096.5" y="1445">+collectionRights</text>
<text class="t" x="2106" y="1569.5">1..*</text>
<text class="t" x="2138" y="1569.5">+objectRights</text>
<text class="t" x="2097" y="1636">1..*</text>
<text class="t" x="2134" y="1640">+objectDate</text>
<text class="t" x="2409" y="1517">+personRole</text>
<text class="t" x="2369.5" y="1528">1</text>
<text class="t" x="2683" y="1619">1</text>
<text class="t" x="2702" y="1619">+personRole</text>
<text class="t" x="2319" y="1177.5">+hasObject</text>
<text class="t" x="2578" y="1148">+collectionValue</text>
<text class="t" x="2508.6" y="1251">+objectValue</text>
<text class="t" x="2434" y="1214.5">+organisationRole</text>
<text class="t" x="2396" y="1248.5">1</text>
<text class="t" x="2515.5" y="986.5">1..*</text>
<text class="t" x="2536" y="990">+projectCollection</text>
<text class="t" x="2889.7" y="1012">+projectGrant</text>
<text class="t" x="2865" y="1033.5">1..*</text>
<text class="t" x="2977.6" y="1011.5">0..*</text>
<text class="t" x="2769" y="1187">+grantFunder</text>
<text class="t" x="2802" y="1170.5">1</text>
<text class="t" x="2952" y="1166.5">+organisation</text>
<text class="t" x="2907" y="1194.5">1</text>
<text class="t" x="2945.5" y="1260">+organisationRole</text>
<text class="t" x="3026" y="1275.5">1</text>
<text class="t" x="3229.7" y="1350">1</text>
<text class="t" x="3130.5" y="1403">+organisationType</text>
<text class="t" x="3138" y="1556">+personOrganisation</text>
<text class="t" x="2571.5" y="1398.5">1</text>
<text class="t" x="2576.5" y="1394">+dataset</text>
<text class="t" x="2909" y="1475">1</text>
<text class="t" x="2786.5" y="1670">+person</text>
<text class="t" x="3266.5" y="1772">+eduPersonScopedAffiliation</text>
<text class="t" x="3487" y="1626">1..*</text>
<text class="t" x="3444" y="1643">+personIdentifier</text>
<text class="t" x="3478" y="1442">+personIdentifierType</text>
<text class="t" x="3558.5" y="1456.5">1</text>
<text class="t" x="3632" y="1466">+projectGroup</text>
<text class="t" x="3121" y="1843">+person</text>
<text class="t" x="3038" y="1983.5">1..*</text>
<text class="t" x="3066" y="1979">+groupAccess</text>
<text class="t" x="2816" y="1978">+permission</text>
<text class="t" x="2899" y="1977">1</text>
<text class="t" x="2374.5" y="2103.5">1</text>
<text class="t" x="2391" y="2100">+file</text>
<text class="t" x="1953" y="1618.5">0..1</text>
<text class="t" x="1949" y="1639">+fileRights</text>
<text class="t" x="1821" y="1912.5">+access</text>
<text class="t" x="1823" y="1923">1</text>
<text class="t" x="1887" y="2018">+licence</text>
<text class="t" x="1892" y="2033">1</text>
<text class="t" x="1710" y="1992.5">1</text>
<text class="t" x="1643" y="2008">+accessType</text>
<text class="t" x="2138" y="1783">+fileDate</text>
<text class="t" x="2155" y="1821.5">1..*</text>
<text class="t" x="2125" y="2003">1</text>
<text class="t" x="2074" y="2019">+dateType</text>
<text class="t" x="2275" y="1528">0..*</text>
<text class="t" x="2289" y="1815">+hasFile</text>
<text class="t" x="2560.5" y="2076">+objectPreservationEvent</text>
<text class="t" x="2748" y="2247">+preservationEvent</text>
<text class="t" x="2870" y="2242">1..*</text>
<text class="t" x="2538" y="2294">+fileStorageType</text>
<text class="t" x="2538" y="2316">1</text>
<text class="t" x="2642" y="2325.5">+fileChecksum</text>
<text class="t" x="2706.5" y="2357">1..*</text>
<text class="t" x="2857" y="2434.5">1</text>
<text class="t" x="2809" y="2453">+checksumType</text>
<text class="t" x="3066" y="2174">+preservationEventType</text>
<text class="t" x="3188" y="2202">1</text>
<text class="t" x="2040" y="2403">+storageStatus</text>
<text class="t" x="2123" y="2444">1</text>
<text class="t" x="2362" y="2684">+fileUse</text>
<text class="t" x="2370" y="2723">1</text>
<text class="t" x="2418" y="2656">+uploadStatus</text>
<text class="t" x="2490" y="2689">1</text>
</g>
</svg>
